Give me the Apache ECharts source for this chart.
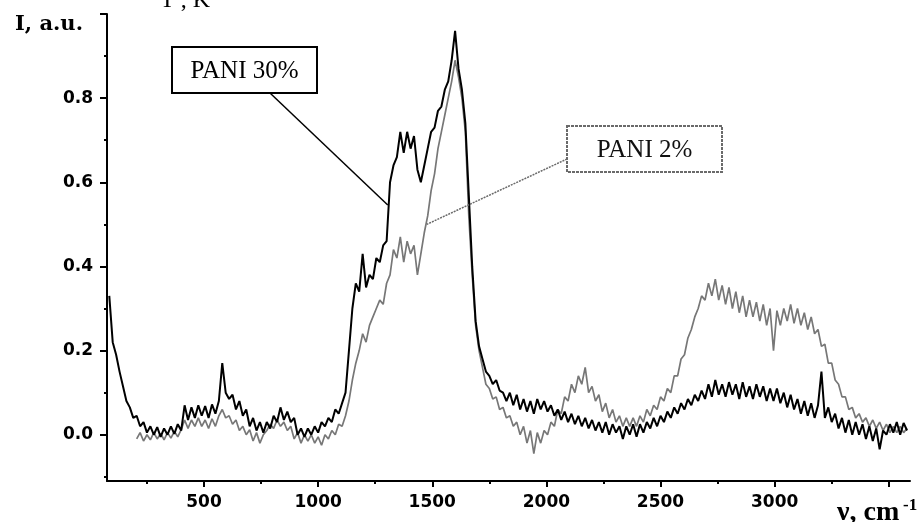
<!DOCTYPE html>
<html lang="en">
<head>
<meta charset="utf-8">
<title>PANI spectra</title>
<script src="https://cdn.jsdelivr.net/npm/echarts@6.0.0/dist/echarts.min.js"></script>
<style>
html, body { margin: 0; padding: 0; background: #fff; }
#chart { width: 922px; height: 522px; }
</style>
</head>
<body>
<div id="chart"></div>
<script>
// wavenumber, cm-1 (rows of 10)
var wavenumber = [
    85, 100, 115, 130, 145, 160, 175, 190, 205, 220,
    235, 250, 265, 280, 295, 310, 325, 340, 355, 370,
    385, 400, 415, 430, 445, 460, 475, 490, 505, 520,
    535, 550, 565, 580, 595, 610, 625, 640, 655, 670,
    685, 700, 715, 730, 745, 760, 775, 790, 805, 820,
    835, 850, 865, 880, 895, 910, 925, 940, 955, 970,
    985, 1000, 1015, 1030, 1045, 1060, 1075, 1090, 1105, 1120,
    1135, 1150, 1165, 1180, 1195, 1210, 1225, 1240, 1255, 1270,
    1285, 1300, 1315, 1330, 1345, 1360, 1375, 1390, 1405, 1420,
    1435, 1450, 1465, 1480, 1495, 1510, 1525, 1540, 1555, 1570,
    1585, 1600, 1615, 1630, 1645, 1660, 1675, 1690, 1705, 1720,
    1735, 1750, 1765, 1780, 1795, 1810, 1825, 1840, 1855, 1870,
    1885, 1900, 1915, 1930, 1945, 1960, 1975, 1990, 2005, 2020,
    2035, 2050, 2065, 2080, 2095, 2110, 2125, 2140, 2155, 2170,
    2185, 2200, 2215, 2230, 2245, 2260, 2275, 2290, 2305, 2320,
    2335, 2350, 2365, 2380, 2395, 2410, 2425, 2440, 2455, 2470,
    2485, 2500, 2515, 2530, 2545, 2560, 2575, 2590, 2605, 2620,
    2635, 2650, 2665, 2680, 2695, 2710, 2725, 2740, 2755, 2770,
    2785, 2800, 2815, 2830, 2845, 2860, 2875, 2890, 2905, 2920,
    2935, 2950, 2965, 2980, 2995, 3010, 3025, 3040, 3055, 3070,
    3085, 3100, 3115, 3130, 3145, 3160, 3175, 3190, 3205, 3220,
    3235, 3250, 3265, 3280, 3295, 3310, 3325, 3340, 3355, 3370,
    3385, 3400, 3415, 3430, 3445, 3460, 3475, 3490, 3505, 3520,
    3535, 3550, 3565, 3580
];

// PANI 30% (black)
var pani30 = [
    0.33, 0.22, 0.19, 0.15, 0.115, 0.08, 0.065, 0.04, 0.045, 0.02,
    0.03, 0.005, 0.02, 0.0, 0.018, -0.005, 0.015, 0.0, 0.02, 0.002,
    0.025, 0.01, 0.07, 0.035, 0.065, 0.04, 0.07, 0.045, 0.068, 0.04,
    0.072, 0.05, 0.08, 0.17, 0.1, 0.085, 0.095, 0.06, 0.08, 0.045,
    0.06, 0.02, 0.04, 0.01, 0.03, 0.005, 0.03, 0.015, 0.045, 0.03,
    0.065, 0.035, 0.055, 0.03, 0.04, 0.0, 0.015, -0.005, 0.015, 0.0,
    0.02, 0.005, 0.03, 0.02, 0.04, 0.03, 0.06, 0.05, 0.075, 0.1,
    0.2, 0.3, 0.36, 0.34, 0.43, 0.35, 0.38, 0.37, 0.42, 0.41,
    0.45, 0.46, 0.6, 0.64, 0.66, 0.72, 0.67, 0.72, 0.68, 0.71,
    0.63, 0.6, 0.64, 0.68, 0.72, 0.73, 0.77, 0.78, 0.82, 0.84,
    0.89, 0.96, 0.87, 0.82, 0.74, 0.57, 0.4, 0.27, 0.21, 0.18,
    0.15, 0.14, 0.12, 0.13, 0.105, 0.1, 0.08, 0.1, 0.07, 0.095,
    0.06, 0.085, 0.055, 0.08, 0.05, 0.085, 0.06, 0.08, 0.055, 0.07,
    0.045, 0.06, 0.035, 0.055, 0.03, 0.05, 0.025, 0.045, 0.02, 0.04,
    0.015, 0.035, 0.01, 0.03, 0.005, 0.03, 0.0, 0.025, 0.005, 0.02,
    -0.01, 0.02, 0.0, 0.025, -0.005, 0.025, 0.005, 0.03, 0.015, 0.04,
    0.02, 0.045, 0.03, 0.055, 0.04, 0.065, 0.05, 0.075, 0.06, 0.085,
    0.07, 0.095, 0.08, 0.105, 0.085, 0.12, 0.09, 0.13, 0.095, 0.12,
    0.09, 0.125, 0.095, 0.12, 0.085, 0.125, 0.09, 0.115, 0.085, 0.12,
    0.09, 0.115, 0.08, 0.11, 0.08, 0.11, 0.075, 0.1, 0.065, 0.095,
    0.06, 0.085, 0.05, 0.08, 0.045, 0.075, 0.04, 0.07, 0.15, 0.04,
    0.065, 0.03, 0.05, 0.015, 0.04, 0.005, 0.035, 0.0, 0.03, 0.0,
    0.025, -0.01, 0.02, -0.015, 0.015, -0.035, 0.01, 0.0, 0.025, 0.005,
    0.03, 0.0, 0.028, 0.01
];

// PANI 2% (grey)
var pani2 = [
    null, null, null, null, null, null, null, null, -0.01, 0.005,
    -0.015, 0.0, -0.012, 0.005, -0.01, 0.003, -0.012, 0.005, -0.008, 0.008,
    -0.005, 0.012, 0.035, 0.015, 0.035, 0.02, 0.04, 0.02, 0.035, 0.015,
    0.038, 0.02, 0.045, 0.06, 0.04, 0.045, 0.025, 0.035, 0.01, 0.02,
    0.0, 0.012, -0.015, 0.005, -0.02, 0.0, 0.01, 0.025, 0.015, 0.035,
    0.02, 0.03, 0.01, 0.02, -0.01, 0.005, -0.02, 0.0, -0.015, 0.0,
    -0.02, -0.005, -0.025, 0.0, -0.01, 0.01, 0.0, 0.025, 0.02, 0.045,
    0.08, 0.13, 0.17, 0.2, 0.24, 0.22, 0.26, 0.28, 0.3, 0.32,
    0.31, 0.36, 0.38, 0.44, 0.42, 0.47, 0.41, 0.46, 0.43, 0.45,
    0.38, 0.43, 0.48, 0.52, 0.58, 0.62, 0.68, 0.72, 0.76, 0.8,
    0.84, 0.89, 0.85, 0.8, 0.72, 0.52, 0.38, 0.26, 0.2, 0.16,
    0.12, 0.11, 0.085, 0.09, 0.06, 0.065, 0.04, 0.045, 0.02, 0.03,
    0.0, 0.02, -0.02, 0.01, -0.045, 0.005, -0.02, 0.01, 0.0, 0.03,
    0.02, 0.06, 0.05, 0.09, 0.08, 0.12, 0.1, 0.14, 0.12, 0.16,
    0.1, 0.115, 0.08, 0.095, 0.055, 0.075, 0.04, 0.06, 0.03, 0.045,
    0.02, 0.04, 0.02, 0.04, 0.02, 0.045, 0.03, 0.06, 0.045, 0.07,
    0.06, 0.09, 0.08, 0.11, 0.1, 0.14, 0.14, 0.18, 0.19, 0.23,
    0.25, 0.28, 0.3, 0.33, 0.32, 0.36, 0.33, 0.37, 0.32, 0.355,
    0.31, 0.35, 0.3, 0.34, 0.29, 0.33, 0.28, 0.32, 0.28, 0.315,
    0.27, 0.31, 0.26, 0.3, 0.2, 0.295, 0.26, 0.3, 0.27, 0.31,
    0.265, 0.3, 0.26, 0.29, 0.25, 0.28, 0.24, 0.25, 0.21, 0.215,
    0.17, 0.17, 0.13, 0.12, 0.09, 0.09, 0.06, 0.065, 0.04, 0.05,
    0.03, 0.04, 0.02, 0.035, 0.015, 0.03, 0.01, 0.025, 0.005, 0.02,
    0.005, 0.02, 0.005, 0.015
];

var xLabels = [500, 1000, 1500, 2000, 2500, 3000];
var xMajorTicks = [500, 1000, 1500, 2000, 2500, 3000, 3500];
var xMinorTicks = [250, 750, 1250, 1750, 2250, 2750, 3250];
var yLabels = [0.0, 0.2, 0.4, 0.6, 0.8];
var yMajorTicks = [0.0, 0.2, 0.4, 0.6, 0.8, 1.0];
var yMinorTicks = [-0.1, 0.1, 0.3, 0.5, 0.7, 0.9];

// annotation anchors on the curves
var anchor30 = [1305, 0.546];
var anchor2 = [1476, 0.5];

function pairs(ys) {
    return wavenumber.map(function (x, i) { return [x, ys[i]]; });
}

var tickFont = { fontFamily: 'DejaVu Sans', fontWeight: 'bold', fontSize: 17, color: '#000' };
var chart = echarts.init(document.getElementById('chart'), null, { renderer: 'canvas' });

var X_MIN = 75, X_MAX = 3593, Y_MIN = -0.11, Y_MAX = 1.0;

chart.setOption({
    animation: false,
    backgroundColor: '#fff',
    grid: { left: 107, right: 12, top: 14, bottom: 41 },
    xAxis: [{
        type: 'value', min: X_MIN, max: X_MAX, position: 'bottom',
        axisLine: { show: true, onZero: false, lineStyle: { color: '#000', width: 2 } },
        axisTick: { show: true, inside: false, length: 6, customValues: xMajorTicks,
            lineStyle: { color: '#000', width: 2 } },
        axisLabel: Object.assign({ customValues: xLabels, margin: 13,
            formatter: function (v) { return String(v); } }, tickFont),
        splitLine: { show: false }
    }, {
        type: 'value', min: X_MIN, max: X_MAX, position: 'bottom', offset: 0,
        axisLine: { show: false, onZero: false },
        axisTick: { show: true, length: 3, customValues: xMinorTicks,
            lineStyle: { color: '#000', width: 2 } },
        axisLabel: { show: false },
        splitLine: { show: false }
    }],
    yAxis: [{
        type: 'value', min: Y_MIN, max: Y_MAX, position: 'left',
        axisLine: { show: true, onZero: false, lineStyle: { color: '#000', width: 2 } },
        axisTick: { show: true, inside: false, length: 7, customValues: yMajorTicks,
            lineStyle: { color: '#000', width: 2 } },
        axisLabel: Object.assign({ customValues: yLabels, margin: 14,
            formatter: function (v) { return v.toFixed(1); } }, tickFont),
        splitLine: { show: false }
    }, {
        type: 'value', min: Y_MIN, max: Y_MAX, position: 'left', offset: 0,
        axisLine: { show: false, onZero: false },
        axisTick: { show: true, length: 3, customValues: yMinorTicks,
            lineStyle: { color: '#000', width: 2 } },
        axisLabel: { show: false },
        splitLine: { show: false }
    }],
    series: [{
        name: 'PANI 2%', type: 'line', data: pairs(pani2),
        showSymbol: false, connectNulls: false, z: 2,
        lineStyle: { color: '#777', width: 1.7 }
    }, {
        name: 'PANI 30%', type: 'line', data: pairs(pani30),
        showSymbol: false, z: 3,
        lineStyle: { color: '#000', width: 2 }
    }]
});

// leader lines end on the curves
var p30 = chart.convertToPixel({ xAxisIndex: 0, yAxisIndex: 0 }, anchor30);
var p2 = chart.convertToPixel({ xAxisIndex: 0, yAxisIndex: 0 }, anchor2);

chart.setOption({
    graphic: [
        { type: 'text', left: 15, top: 14,
          style: { text: 'I, a.u.', font: 'bold 21px "DejaVu Serif"', fill: '#000' } },
        { type: 'text', x: 160, y: 13,
          style: { text: 'T , K', font: '24px "Liberation Serif"', fill: '#000',
                   verticalAlign: 'bottom' } },
        { type: 'text', x: 837, y: 527,
          style: { text: 'ν, cm', font: 'bold 28px "Liberation Serif"', fill: '#000',
                   verticalAlign: 'bottom' } },
        { type: 'text', x: 903, y: 497,
          style: { text: '-1', font: 'bold 17px "Liberation Serif"', fill: '#000',
                   verticalAlign: 'top' } },
        // PANI 30% box + leader
        { type: 'line', shape: { x1: 270, y1: 93, x2: p30[0], y2: p30[1] },
          style: { stroke: '#000', lineWidth: 1.5 }, z: 10 },
        { type: 'rect', shape: { x: 172, y: 47, width: 145, height: 46 },
          style: { fill: '#fff', stroke: '#000', lineWidth: 2 }, z: 11 },
        { type: 'text', x: 244.5, y: 71, z: 12,
          style: { text: 'PANI 30%', font: '25px "Liberation Serif"', fill: '#000',
                   align: 'center', verticalAlign: 'middle' } },
        // PANI 2% box + leader
        { type: 'line', shape: { x1: 567, y1: 159, x2: p2[0], y2: p2[1] },
          style: { stroke: '#6a6a6a', lineWidth: 1.5, lineDash: [2, 1] }, z: 10 },
        { type: 'rect', shape: { x: 567, y: 126, width: 155, height: 46 },
          style: { fill: '#fff', stroke: '#6a6a6a', lineWidth: 2, lineDash: [3, 1] }, z: 11 },
        { type: 'text', x: 644.5, y: 150, z: 12,
          style: { text: 'PANI 2%', font: '25px "Liberation Serif"', fill: '#111',
                   align: 'center', verticalAlign: 'middle' } }
    ]
});
</script>
</body>
</html>
